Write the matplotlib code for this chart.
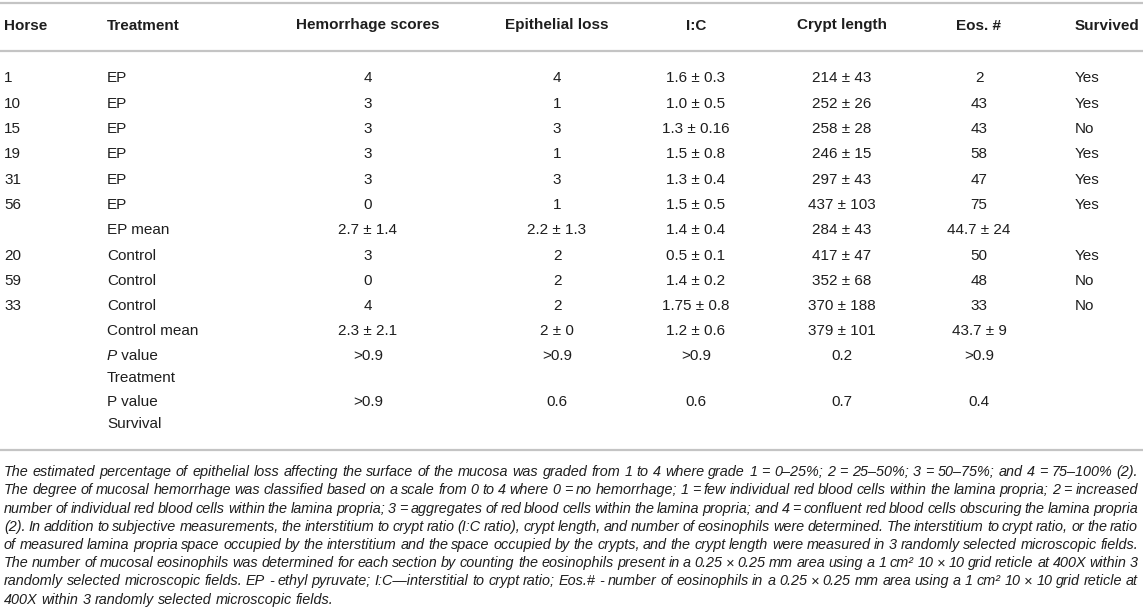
import matplotlib
matplotlib.use('Agg')
import matplotlib.pyplot as plt
from matplotlib import font_manager

W, H = 1143, 616

# table contents
columns = ['Horse', 'Treatment', 'Hemorrhage scores', 'Epithelial loss', 'I:C',
           'Crypt length', 'Eos. #', 'Survived']
horse = ['1', '10', '15', '19', '31', '56', '', '20', '59', '33', '']
treatment = ['EP', 'EP', 'EP', 'EP', 'EP', 'EP', 'EP mean',
             'Control', 'Control', 'Control', 'Control mean']
hemorrhage = ['4', '3', '3', '3', '3', '0', '2.7 ± 1.4', '3', '0', '4', '2.3 ± 2.1']
epithelial = ['4', '1', '3', '1', '3', '1', '2.2 ± 1.3', '2', '2', '2', '2 ± 0']
ic_ratio = ['1.6 ± 0.3', '1.0 ± 0.5', '1.3 ± 0.16', '1.5 ± 0.8', '1.3 ± 0.4',
            '1.5 ± 0.5', '1.4 ± 0.4', '0.5 ± 0.1', '1.4 ± 0.2', '1.75 ± 0.8', '1.2 ± 0.6']
crypt = ['214 ± 43', '252 ± 26', '258 ± 28', '246 ± 15', '297 ± 43', '437 ± 103',
         '284 ± 43', '417 ± 47', '352 ± 68', '370 ± 188', '379 ± 101']
eos = ['2', '43', '43', '58', '47', '75', '44.7 ± 24', '50', '48', '33', '43.7 ± 9']
survived = ['Yes', 'Yes', 'No', 'Yes', 'Yes', 'Yes', '', 'Yes', 'No', 'No', '']

# P value rows (first one has an italic P)
p_labels = [('P', ' value', 'Treatment'), ('P value', '', 'Survival')]
p_treatment = ['>0.9', '>0.9', '>0.9', '0.2', '>0.9']
p_survival = ['>0.9', '0.6', '0.6', '0.7', '0.4']

footnote = [
    "The estimated percentage of epithelial loss affecting the surface of the mucosa was graded from 1 to 4 where grade 1 = 0–25%; 2 = 25–50%; 3 = 50–75%; and 4 = 75–100% (2).",
    "The degree of mucosal hemorrhage was classified based on a scale from 0 to 4 where 0 = no hemorrhage; 1 = few individual red blood cells within the lamina propria; 2 = increased",
    "number of individual red blood cells within the lamina propria; 3 = aggregates of red blood cells within the lamina propria; and 4 = confluent red blood cells obscuring the lamina propria",
    "(2). In addition to subjective measurements, the interstitium to crypt ratio (I:C ratio), crypt length, and number of eosinophils were determined. The interstitium to crypt ratio, or the ratio",
    "of measured lamina propria space occupied by the interstitium and the space occupied by the crypts, and the crypt length were measured in 3 randomly selected microscopic fields.",
    "The number of mucosal eosinophils was determined for each section by counting the eosinophils present in a 0.25 × 0.25 mm area using a 1 cm² 10 × 10 grid reticle at 400X within 3",
    "randomly selected microscopic fields. EP - ethyl pyruvate; I:C—interstitial to crypt ratio; Eos.# - number of eosinophils in a 0.25 × 0.25 mm area using a 1 cm² 10 × 10 grid reticle at",
    "400X within 3 randomly selected microscopic fields.",
]

installed = {f.name for f in font_manager.fontManager.ttflist}
body_font = 'Liberation Sans' if 'Liberation Sans' in installed else 'DejaVu Sans'
plt.rcParams['font.family'] = [body_font, 'DejaVu Sans']
txt = '#1e1e1e'
rule = '#c4c4c4'
fs = 11

fig = plt.figure(figsize=(W / 100, H / 100), dpi=100)
fig.patch.set_facecolor('white')
renderer = fig.canvas.get_renderer()


def fy(py):
    return 1 - py / H


def fx(px):
    return px / W


def put(px, py, s, ha='left', **kw):
    # py is the vertical middle of the capitals; place the baseline below it
    kw.setdefault('fontsize', fs)
    kw.setdefault('color', txt)
    base = py + 0.36 * kw['fontsize'] * 100 / 72
    return fig.text(fx(px), fy(base), s, ha=ha, va='baseline', **kw)


def hline(py):
    fig.add_artist(plt.Line2D([0, 1], [fy(py), fy(py)], color=rule, lw=1.6))


hline(3)
hline(51)
hline(450)

col_x = [4, 107, 368, 557, 696, 842, 979, 1075]
col_ha = ['left', 'left', 'center', 'center', 'center', 'center', 'center', 'left']
for name, x, ha in zip(columns, col_x, col_ha):
    put(x, 24, name, ha=ha, fontweight='bold')

data_cols = [horse, treatment, hemorrhage, epithelial, ic_ratio, crypt, eos, survived]
row0, step = 77, 25.3
for i in range(len(horse)):
    y = row0 + i * step
    for col, x, ha in zip(data_cols, col_x, col_ha):
        if col[i]:
            put(x, y, col[i], ha=ha)

p_y = [355, 400]
for (lab_a, lab_b, lab_c), vals, y in zip(p_labels, [p_treatment, p_survival], p_y):
    if lab_b:
        t = put(col_x[1], y, lab_a, style='italic')
        w = t.get_window_extent(renderer).width
        put(col_x[1] + w, y, lab_b)
    else:
        put(col_x[1], y, lab_a)
    put(col_x[1], y + 22, lab_c)
    for v, x in zip(vals, col_x[2:7]):
        put(x, y, v, ha='center')

# footnote: size fitted to the first line, then justified word by word
left, right = 4, 1138
probe = put(left, 470, footnote[0], style='italic', fontsize=10)
foot_fs = 10 * (right - left) / probe.get_window_extent(renderer).width
probe.remove()
for k, line in enumerate(footnote):
    y = 471 + k * 18.2
    words = line.split(' ')
    arts = [put(left, y, w_, style='italic', fontsize=foot_fs) for w_ in words]
    widths = [a.get_window_extent(renderer).width for a in arts]
    space = foot_fs * 0.278 * 100 / 72
    gap = space if k == len(footnote) - 1 else (right - left - sum(widths)) / (len(words) - 1)
    x = left
    for a, w_ in zip(arts, widths):
        a.set_x(fx(x))
        x += w_ + gap

fig.savefig('out.png', dpi=100, facecolor='white')
